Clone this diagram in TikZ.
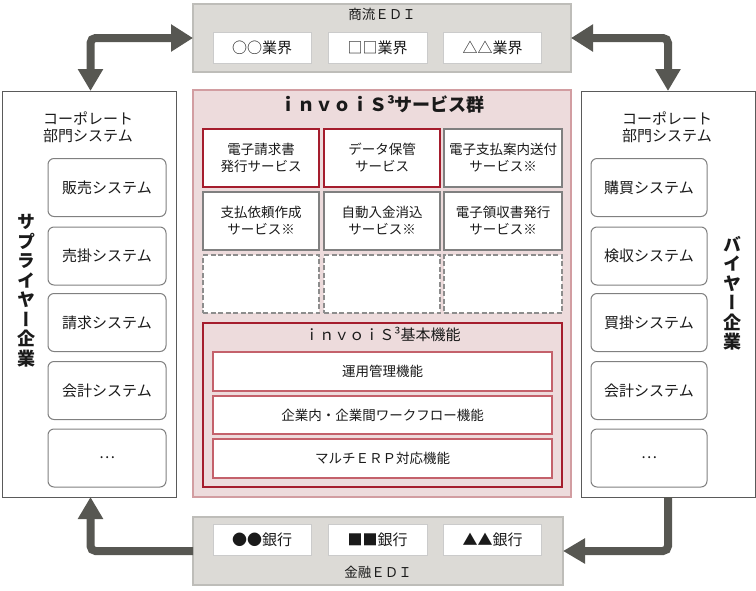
\documentclass[tikz,border=0pt]{standalone}
\usepackage{fontspec}
\setmainfont{Noto Sans CJK JP}
\newfontfamily\vfont[RawFeature=+vert]{Noto Sans CJK JP}
\usetikzlibrary{arrows.meta}
\definecolor{arrowc}{HTML}{575752}
\definecolor{edifill}{HTML}{DCDAD6}
\definecolor{ediline}{HTML}{BEBDB9}
\definecolor{wline}{HTML}{CBCBCB}
\definecolor{cfill}{HTML}{EDDBDC}
\definecolor{cline}{HTML}{D29DA1}
\definecolor{redline}{HTML}{A51D2D}
\definecolor{grayline}{HTML}{808080}
\definecolor{pinkline}{HTML}{C4616B}
\definecolor{compline}{HTML}{5A5A5A}
\definecolor{txt}{HTML}{1A1A1A}
\tikzset{
  every node/.style={inner sep=0pt, outer sep=0pt, text=txt},
  edibox/.style={draw=ediline, line width=1.5pt, fill=edifill},
  wbox/.style={draw=wline, line width=1pt, fill=white, minimum width=98pt, minimum height=31pt, font=\fontsize{15}{17}\selectfont},
  central/.style={draw=cline, line width=2pt, fill=cfill},
  svc/.style={line width=1.6pt, fill=white, minimum width=116pt, minimum height=58pt, align=center, font=\fontsize{13.5}{17}\selectfont},
  svcred/.style={svc, draw=redline},
  svcgray/.style={svc, draw=grayline},
  svcdash/.style={svc, draw=grayline!90, dash pattern=on 5pt off 2.5pt, line width=1.5pt},
  basic/.style={draw=redline, line width=1.6pt, fill=cfill},
  fbox/.style={draw=pinkline, line width=1.2pt, fill=white, minimum width=339pt, font=\fontsize{13.5}{16}\selectfont},
  comp/.style={draw=compline, line width=1pt, fill=white, minimum width=174pt, minimum height=406pt},
  sys/.style={draw=grayline, line width=1pt, fill=white, rounded corners=6pt, minimum height=58pt, font=\fontsize{15}{17}\selectfont},
  vtext/.style={font=\vfont\bfseries\fontsize{18}{19.5}\selectfont, align=center},
  bigarrow/.style={draw=arrowc, line width=8pt, rounded corners=5pt},
  tip/.style={arrowc, fill=arrowc}
}
\begin{document}
\begin{tikzpicture}[x=1pt,y=-1pt]
\useasboundingbox (0,0) rectangle (756,590);
% top EDI
\node[edibox, minimum width=378pt, minimum height=68pt] (edi) at (382,38) {};
\node[font=\fontsize{13.5}{16}\selectfont] (editl) at (382,14) {商流ＥＤＩ};
\node[wbox] (ind1) at (262,47.5) {○○業界};
\node[wbox, minimum width=99pt] (ind2) at (377.5,47.5) {□□業界};
\node[wbox] (ind3) at (492.5,47.5) {△△業界};
% central
\node[central, minimum width=378pt, minimum height=407pt] (cen) at (382,293.5) {};
\node[font=\bfseries\fontsize{18}{20}\selectfont] (centl) at (382,104) {ｉｎｖｏｉＳ³サービス群};
\node[svcred] (s1) at (261,158) {電子請求書\\発行サービス};
\node[svcred] (s2) at (382,158) {データ保管\\サービス};
\node[svcgray, minimum width=118pt] (s3) at (503,158) {電子支払案内送付\\サービス※};
\node[svcgray] (s4) at (261,221) {支払依頼作成\\サービス※};
\node[svcgray] (s5) at (382,221) {自動入金消込\\サービス※};
\node[svcgray, minimum width=118pt] (s6) at (503,221) {電子領収書発行\\サービス※};
\node[svcdash] (s7) at (261,284) {};
\node[svcdash] (s8) at (382,284) {};
\node[svcdash, minimum width=118pt] (s9) at (503,284) {};
\node[basic, minimum width=359pt, minimum height=164pt] (bas) at (382.5,405) {};
\node[font=\fontsize{15}{17}\selectfont] (bastl) at (382.5,334) {ｉｎｖｏｉＳ³基本機能};
\node[fbox, minimum height=39pt] (f1) at (382.5,371.5) {運用管理機能};
\node[fbox, minimum height=38pt] (f2) at (382.5,415) {企業内・企業間ワークフロー機能};
\node[fbox, minimum height=39pt] (f3) at (382.5,458.5) {マルチＥＲＰ対応機能};
% bottom EDI
\node[edibox, minimum width=370pt, minimum height=68pt] (fin) at (378,551) {};
\node[font=\fontsize{13.5}{16}\selectfont] (fintl) at (378,572) {金融ＥＤＩ};
\node[wbox] (b1) at (262,540) {●●銀行};
\node[wbox, minimum width=99pt] (b2) at (377.5,540) {■■銀行};
\node[wbox] (b3) at (492.5,540) {▲▲銀行};
% supplier
\node[comp] (sup) at (89,294) {};
\node[align=center, font=\fontsize{15}{17}\selectfont] (supcp) at (88,127.5) {コーポレート\\部門システム};
\node[sys, minimum width=118pt] (l1) at (107,187.5) {販売システム};
\node[sys, minimum width=118pt] (l2) at (107,256) {売掛システム};
\node[sys, minimum width=118pt] (l3) at (107,322.5) {請求システム};
\node[sys, minimum width=118pt] (l4) at (107,390.5) {会計システム};
\node[sys, minimum width=118pt] (l5) at (107,458) {…};
\node[vtext] (suptx) at (26,290.5) {サ\\プ\\ラ\\イ\\ヤ\\ー\\企\\業};
% buyer
\node[comp] (buy) at (668,294) {};
\node[align=center, font=\fontsize{15}{17}\selectfont] (buycp) at (667,127.5) {コーポレート\\部門システム};
\node[sys, minimum width=116pt] (r1) at (649,187.5) {購買システム};
\node[sys, minimum width=116pt] (r2) at (649,256) {検収システム};
\node[sys, minimum width=116pt] (r3) at (649,322.5) {買掛システム};
\node[sys, minimum width=116pt] (r4) at (649,390.5) {会計システム};
\node[sys, minimum width=116pt] (r5) at (649,458) {…};
\node[vtext] (buytx) at (732,293.5) {バ\\イ\\ヤ\\ー\\企\\業};
% arrows
\draw[bigarrow, {Triangle[width=24pt,length=22pt]}-{Triangle[width=26pt,length=22pt]}] ([xshift=1.5pt]sup.north) |- (edi.west);
\draw[bigarrow, {Triangle[width=26pt,length=22pt]}-{Triangle[width=24pt,length=22pt]}] (edi.east) -| (buy.north);
\draw[bigarrow, -{Triangle[width=24pt,length=22pt]}] (fin.west) -| ([xshift=1.5pt]sup.south);
\draw[bigarrow, -{Triangle[width=24pt,length=22pt]}] (buy.south) |- (fin.east);
\end{tikzpicture}
\end{document}
